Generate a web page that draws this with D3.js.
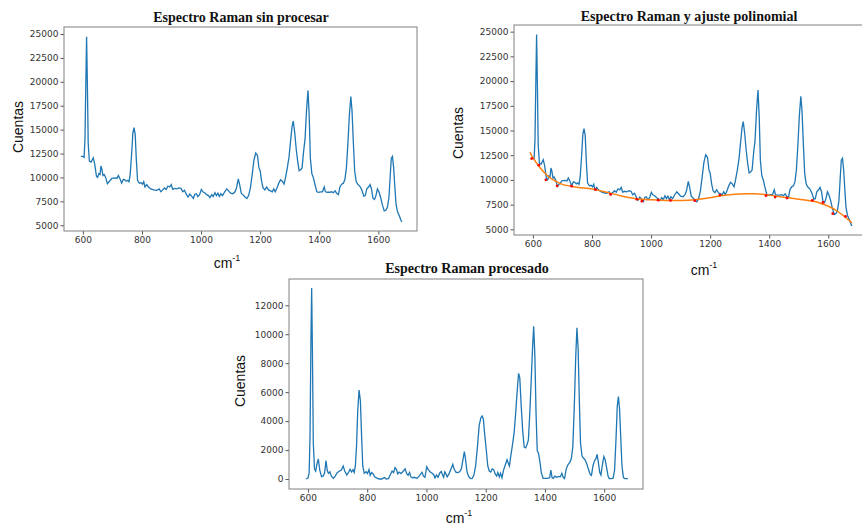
<html>
<head>
<script src="https://cdnjs.cloudflare.com/ajax/libs/d3/7.8.5/d3.min.js"></script>
  <meta charset="utf-8">
  <title>Espectro Raman</title>
  <style>
    body { margin: 0; background: #fff; }
  </style>
</head>
<body>
	<script type="text/javascript">

		// raw spectrum (used in the two top panels)
		var rawX = [593,600,604,607,610,612.5,615,618,622,628,635,640,646,650,654,658,661,664,668,672,677,683,690,698,708,715,720,725,731,737,742,747,752,756,760,765,769,773,777,781,785,791,797,802,806,810,816,822,830,840,850,858,864,870,876,882,888,894,899,904,910,918,925,932,938,944,950,956,962,968,974,979,984,989,995,1001,1006,1012,1019,1025,1030,1036,1041,1047,1052,1057,1062,1067,1073,1080,1087,1093,1100,1108,1115,1120,1126,1131,1136,1143,1149,1155,1161,1167,1173,1179,1185,1191,1196,1200,1205,1210,1216,1222,1228,1235,1241,1246,1251,1257,1263,1269,1275,1281,1286,1292,1298,1303,1308,1312,1317,1322,1327,1332,1337,1342,1347,1352,1357,1362,1366,1370,1375,1380,1386,1392,1398,1405,1411,1417,1421,1428,1435,1442,1448,1454,1459,1465,1470,1476,1482,1487,1492,1497,1502,1507,1511,1515,1520,1525,1530,1537,1544,1551,1556,1561,1567,1572,1577,1582,1587,1592,1597,1602,1608,1614,1620,1626,1631,1636,1640,1644,1648,1652,1656,1660,1665,1671,1677,1680];
		var rawY = [12200,12200,12100,14000,20000,24700,20000,13500,11700,11600,12050,11400,10100,10000,10400,10300,11200,10900,10200,10300,10000,9350,9600,9900,9950,9900,10200,9900,9400,9800,9750,9600,9700,9550,10300,12500,14600,15200,14500,11800,9700,9400,9450,9300,9550,9000,9250,9000,8800,8700,8650,8800,8500,8700,8900,8750,9100,9000,9250,8750,8850,8800,8900,8850,8500,8650,8250,7950,8250,8050,7800,8250,8300,8000,8200,8750,8500,8400,8200,8100,7900,8200,8000,8400,8100,8350,8000,8300,8100,8500,8800,8600,8350,8300,8500,8900,9850,9200,8350,8150,7950,7800,8100,8900,10300,11800,12550,12300,11000,10700,9600,8900,8700,9000,8700,8600,8500,8800,8500,8900,9400,9750,9600,9300,10000,11000,12200,13800,15300,15900,14700,13000,11700,10700,10800,11000,12700,14000,17000,19100,16500,12000,10400,10000,9200,8500,8450,8500,8500,9000,8500,8450,8450,8500,8400,8600,8350,8200,9000,9300,9400,9800,11000,13500,16500,18450,17000,14000,10700,9600,9300,9100,8700,8050,8100,8800,9000,9250,8800,7800,7700,8100,8800,8500,7900,7100,6500,6600,6900,7900,10000,12000,12200,11000,9000,7200,6400,6000,5500,5350];

		// polynomial baseline and the points it was fitted to
		var fitX = [590,600,625,650,675,700,750,800,850,900,950,1000,1050,1100,1150,1200,1250,1300,1350,1400,1450,1500,1550,1575,1600,1625,1650,1680];
		var fitY = [12800,12250,11200,10400,9900,9550,9250,9080,8750,8380,8100,7980,7920,7910,8000,8200,8450,8580,8600,8460,8250,8050,7830,7620,7330,6950,6400,5650];
		var anchorX = [596,620,644,682,731,812,863,952,969,1024,1066,1148,1233,1389,1420,1460,1546,1582,1615,1658];
		var anchorY = [12160,11490,10010,9400,9370,9030,8530,8030,7850,7950,7920,7900,8460,8400,8260,8160,7920,7720,6580,6310];

		// processed spectrum (baseline removed)
		var procX = [593,600,604,607,610,612.5,615,618,622,626,631,635,640,646,651,656,661,665,669,674,679,686,692,698,704,712,719,724,731,737,742,747,752,756,760,764,768,772.5,777,781,785,790,796,801,806,810,815,820,825,832,840,849,858,864,872,878,884,889,894,899,903,908,914,920,928,933,938,943,947,952,958,968,975,981,985,990,995,1001,1006,1012,1018,1024,1029,1034,1039,1045,1050,1054,1058,1062,1066,1070,1076,1082,1089,1094,1100,1106,1112,1118,1123,1128,1132,1137,1142,1148,1154,1160,1166,1172,1178,1184,1188,1192,1197,1202,1207,1212,1217,1222,1227,1232,1237,1241,1246,1250,1255,1260,1266,1272,1276,1280,1284,1290,1296,1301,1306,1311,1315,1320,1325,1330,1335,1340,1344,1348,1353,1358,1362,1366,1370,1374,1378,1383,1388,1394,1402,1410,1416,1420,1424,1428,1434,1440,1446,1452,1457,1462,1466,1472,1478,1484,1489,1494,1499,1504,1508,1512,1516,1520,1525,1530,1536,1542,1548,1553,1557,1562,1567,1572,1576,1580,1585,1589,1594,1599,1603,1608,1613,1617,1624,1630,1635,1640,1644,1648,1652,1656,1660,1665,1670,1680];
		var procY = [0,60,400,3000,9500,13200,9000,2500,700,550,1100,1380,600,160,200,400,1270,600,390,500,200,50,200,420,520,600,900,550,280,450,670,480,650,450,900,2300,4700,6150,5400,3000,900,390,500,380,650,250,450,350,160,80,0,0,100,0,30,300,550,450,780,650,350,480,380,500,700,380,250,450,160,80,120,50,200,350,460,200,120,850,650,500,420,320,80,280,120,420,520,300,120,500,350,150,350,650,1010,650,460,450,500,700,1300,1900,1350,500,200,50,30,250,900,2200,3700,4250,4350,4150,3000,2000,900,550,480,700,650,350,200,450,150,400,90,600,970,1330,1100,900,1500,2300,3200,4500,6000,7300,7000,5000,3300,2200,2150,2400,2700,4200,6500,9000,10550,8500,4500,1950,1800,1200,400,50,50,50,100,620,100,50,200,120,180,150,390,100,30,700,1000,1150,1400,2200,5000,8500,10450,9000,5500,2500,1600,1450,1300,1000,600,300,250,900,1250,1400,1700,1200,450,280,1000,1550,1350,800,200,30,30,60,600,2800,5000,5700,4800,2800,900,100,30,30];

		var xTicks = [600,800,1000,1200,1400,1600];
		var rawTicks = [5000,7500,10000,12500,15000,17500,20000,22500,25000];
		var procTicks = [0,2000,4000,6000,8000,10000,12000];

		var titles = ["Espectro Raman sin procesar","Espectro Raman y ajuste polinomial","Espectro Raman procesado"];
		var yLabel = "Cuentas";

		var w = 862;
		var h = 525;
		var blue = "#1f77b4";
		var orange = "#ff7f0e";

		var svg = d3.select("body")
					.append("svg")
					.attr("width", w)
					.attr("height", h);

		// panel boxes in page pixels
		var panels = [
			{left: 64, top: 27, width: 353, height: 204, ymin: 4400, ymax: 25730, ticks: rawTicks,
			 title: titles[0], titleX: 241, titleY: 22, ylabX: 18, ylabY: 127, xlabX: 227, xlabY: 268},
			{left: 514, top: 25, width: 353, height: 210, ymin: 4425, ymax: 25675, ticks: rawTicks,
			 title: titles[1], titleX: 689, titleY: 21, ylabX: 458, ylabY: 133, xlabX: 704, xlabY: 275},
			{left: 289, top: 279, width: 354, height: 210, ymin: -690, ymax: 13815, ticks: procTicks,
			 title: titles[2], titleX: 467, titleY: 273, ylabX: 240, ylabY: 381, xlabX: 459, xlabY: 523}
		];

		function series(xs, ys) {
			return xs.map(function(d, i) { return [d, ys[i]]; });
		}

		function drawPanel(p, idx) {
			var x = d3.scaleLinear().domain([536, 1731]).range([p.left, p.left + p.width]);
			var y = d3.scaleLinear().domain([p.ymin, p.ymax]).range([p.top + p.height, p.top]);

			var g = svg.append("g");

			g.append("clipPath").attr("id", "clip" + idx)
				.append("rect")
				.attr("x", p.left).attr("y", p.top)
				.attr("width", p.width).attr("height", p.height);

			var xAxis = d3.axisBottom(x).tickValues(xTicks).tickSize(3.5).tickPadding(2).tickFormat(d3.format("d"));
			var yAxis = d3.axisLeft(y).tickValues(p.ticks).tickSize(3.5).tickPadding(2).tickFormat(d3.format("d"));

			var ax = g.append("g")
				.attr("transform", "translate(0," + (p.top + p.height) + ")")
				.call(xAxis);
			var ay = g.append("g")
				.attr("transform", "translate(" + p.left + ",0)")
				.call(yAxis);

			[ax, ay].forEach(function(a) {
				a.select(".domain").remove();
				a.selectAll("line").attr("stroke", "#555");
				a.selectAll("text")
					.attr("font-family", "DejaVu Sans, sans-serif")
					.attr("font-size", "9px")
					.attr("fill", "#333");
			});

			var line = d3.line()
				.x(function(d) { return x(d[0]); })
				.y(function(d) { return y(d[1]); });

			var plot = g.append("g").attr("clip-path", "url(#clip" + idx + ")");

			if (idx < 2) {
				plot.append("path")
					.datum(series(rawX, rawY))
					.attr("d", line)
					.attr("fill", "none")
					.attr("stroke", blue)
					.attr("stroke-width", 1.3);
			} else {
				plot.append("path")
					.datum(series(procX, procY))
					.attr("d", line)
					.attr("fill", "none")
					.attr("stroke", blue)
					.attr("stroke-width", 1.3);
			}

			if (idx == 1) {
				plot.append("path")
					.datum(series(fitX, fitY))
					.attr("d", line.curve(d3.curveCatmullRom))
					.attr("fill", "none")
					.attr("stroke", orange)
					.attr("stroke-width", 1.5);

				plot.selectAll("circle")
					.data(series(anchorX, anchorY))
					.enter()
					.append("circle")
					.attr("cx", function(d) { return x(d[0]); })
					.attr("cy", function(d) { return y(d[1]); })
					.attr("r", 1.4)
					.attr("fill", "red");
			}

			// frame
			g.append("rect")
				.attr("x", p.left).attr("y", p.top)
				.attr("width", p.width).attr("height", p.height)
				.attr("fill", "none")
				.attr("stroke", "#808080")
				.attr("stroke-width", 1);

			g.append("text")
				.text(p.title)
				.attr("x", p.titleX)
				.attr("y", p.titleY)
				.attr("text-anchor", "middle")
				.attr("font-family", "Liberation Serif, Times New Roman, serif")
				.attr("font-weight", "bold")
				.attr("font-size", "14px")
				.attr("fill", "#111");

			g.append("text")
				.text(yLabel)
				.attr("transform", "translate(" + (p.ylabX + 5) + "," + p.ylabY + ") rotate(-90)")
				.attr("text-anchor", "middle")
				.attr("font-family", "Liberation Sans, Arial, sans-serif")
				.attr("font-size", "14px")
				.attr("fill", "#111");

			var xl = g.append("text")
				.attr("x", p.xlabX)
				.attr("y", p.xlabY)
				.attr("text-anchor", "middle")
				.attr("font-family", "Liberation Sans, Arial, sans-serif")
				.attr("font-size", "14px")
				.attr("fill", "#111");
			xl.append("tspan").text("cm");
			xl.append("tspan").text("-1").attr("dy", -7).attr("font-size", "9px");
		}

		panels.forEach(drawPanel);
	</script>
</body>
</html>
